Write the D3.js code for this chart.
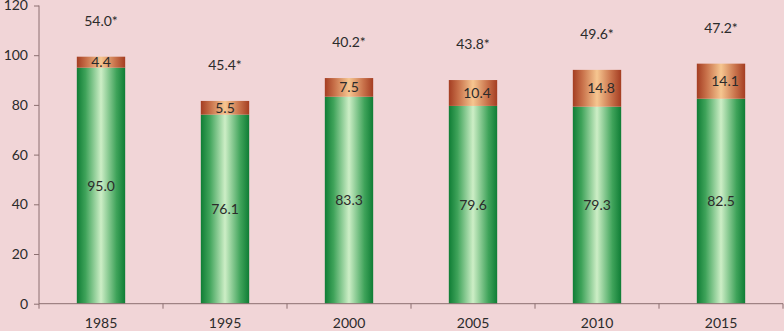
<!DOCTYPE html>
<html><head><meta charset="utf-8">
<script src="https://cdn.jsdelivr.net/npm/d3@7"></script>
<style>html,body{margin:0;padding:0;background:#f1d5d7;}svg{display:block;}</style>
</head><body>
<svg id="chart" width="784" height="331"></svg>
<script>
const categories = ["1985","1995","2000","2005","2010","2015"];
const greenValues = [95.0, 76.1, 83.3, 79.6, 79.3, 82.5];
const orangeValues = [4.4, 5.5, 7.5, 10.4, 14.8, 14.1];
const noteLabels = ["54.0*","45.4*","40.2*","43.8*","49.6*","47.2*"];
const yTicks = [0,20,40,60,80,100,120];

const svg = d3.select("#chart");
const W = 784, H = 331;
const m = {left: 39, right: 1, top: 5.5, bottom: 27.3};
const x = d3.scaleBand().domain(categories).range([m.left, W - m.right]).paddingInner(0.61).paddingOuter(0.305);
const xb = d3.scaleBand().domain(categories).range([m.left, W - m.right]);
const y = d3.scaleLinear().domain([0,120]).range([H - m.bottom, m.top]);

svg.append("rect").attr("width",W).attr("height",H).attr("fill","#f1d5d7");

const defs = svg.append("defs");
const gG = defs.append("linearGradient").attr("id","gGreen").attr("x1","0").attr("x2","1").attr("y1","0").attr("y2","0");
[["0%","#0f7d35"],["18%","#3fa35a"],["50%","#cdeec6"],["82%","#3fa35a"],["100%","#0f7d35"]].forEach(s=>gG.append("stop").attr("offset",s[0]).attr("stop-color",s[1]));
const gO = defs.append("linearGradient").attr("id","gOrange").attr("x1","0").attr("x2","1").attr("y1","0").attr("y2","0");
[["0%","#a43d22"],["20%","#c8714a"],["50%","#f6c690"],["80%","#c8714a"],["100%","#a43d22"]].forEach(s=>gO.append("stop").attr("offset",s[0]).attr("stop-color",s[1]));

const font = "Lato, 'Open Sans', sans-serif";

// green bars
svg.append("g").selectAll("rect").data(categories).join("rect")
  .attr("x", d=>x(d)).attr("width", x.bandwidth())
  .attr("y", (d,i)=>y(greenValues[i]))
  .attr("height", (d,i)=>y(0)-y(greenValues[i]))
  .attr("fill","url(#gGreen)");
// orange bars
svg.append("g").selectAll("rect").data(categories).join("rect")
  .attr("x", d=>x(d)).attr("width", x.bandwidth())
  .attr("y", (d,i)=>y(greenValues[i]+orangeValues[i]))
  .attr("height", (d,i)=>y(greenValues[i])-y(greenValues[i]+orangeValues[i]))
  .attr("fill","url(#gOrange)");

const textFill = "#2b2b2b";
// green labels
svg.append("g").selectAll("text").data(categories).join("text")
  .attr("x", d=>x(d)+x.bandwidth()/2)
  .attr("y", (d,i)=>y(greenValues[i]/2))
  .attr("dy","0.35em").attr("text-anchor","middle")
  .attr("font-family",font).attr("font-size",14).attr("fill",textFill)
  .text((d,i)=>greenValues[i].toFixed(1));
// orange labels
svg.append("g").selectAll("text").data(categories).join("text")
  .attr("x", (d,i)=>x(d)+x.bandwidth()/2 + (orangeValues[i]>=10?4:0))
  .attr("y", (d,i)=>y(greenValues[i]+orangeValues[i]/2))
  .attr("dy","0.35em").attr("text-anchor","middle")
  .attr("font-family",font).attr("font-size",14).attr("fill",textFill)
  .text((d,i)=>orangeValues[i].toFixed(1));
// note labels above bars
svg.append("g").selectAll("text").data(categories).join("text")
  .attr("x", d=>x(d)+x.bandwidth()/2)
  .attr("y", (d,i)=>y(greenValues[i]+orangeValues[i]) - 36)
  .attr("dy","0.35em").attr("text-anchor","middle")
  .attr("font-family",font).attr("font-size",14).attr("fill",textFill)
  .text((d,i)=>noteLabels[i]);

const axisColor = "#8c6f70";
// y axis
const ya = svg.append("g").attr("transform",`translate(${m.left},0)`)
  .call(d3.axisLeft(y).tickValues(yTicks).tickSize(5).tickPadding(6));
ya.selectAll("path,line").attr("stroke",axisColor);
ya.select(".domain").attr("d",`M0,${y(120)}V${y(0)}`);
ya.selectAll("text").attr("font-family",font).attr("font-size",14).attr("fill",textFill);

// x axis
const xa = svg.append("g").attr("transform",`translate(0,${y(0)})`)
  .call(d3.axisBottom(xb).tickSize(0).tickPadding(14));
xa.select(".domain").attr("stroke",axisColor).attr("d",`M${m.left},0H${W-m.right}`);
xa.selectAll("text").attr("font-family",font).attr("font-size",14).attr("fill",textFill);
// boundary ticks between categories
const bounds = categories.map(c=>xb(c)).concat([W-m.right]);
svg.append("g").selectAll("line").data(bounds).join("line")
  .attr("x1",d=>d).attr("x2",d=>d).attr("y1",y(0)).attr("y2",y(0)+5)
  .attr("stroke",axisColor);
</script>
</body></html>
